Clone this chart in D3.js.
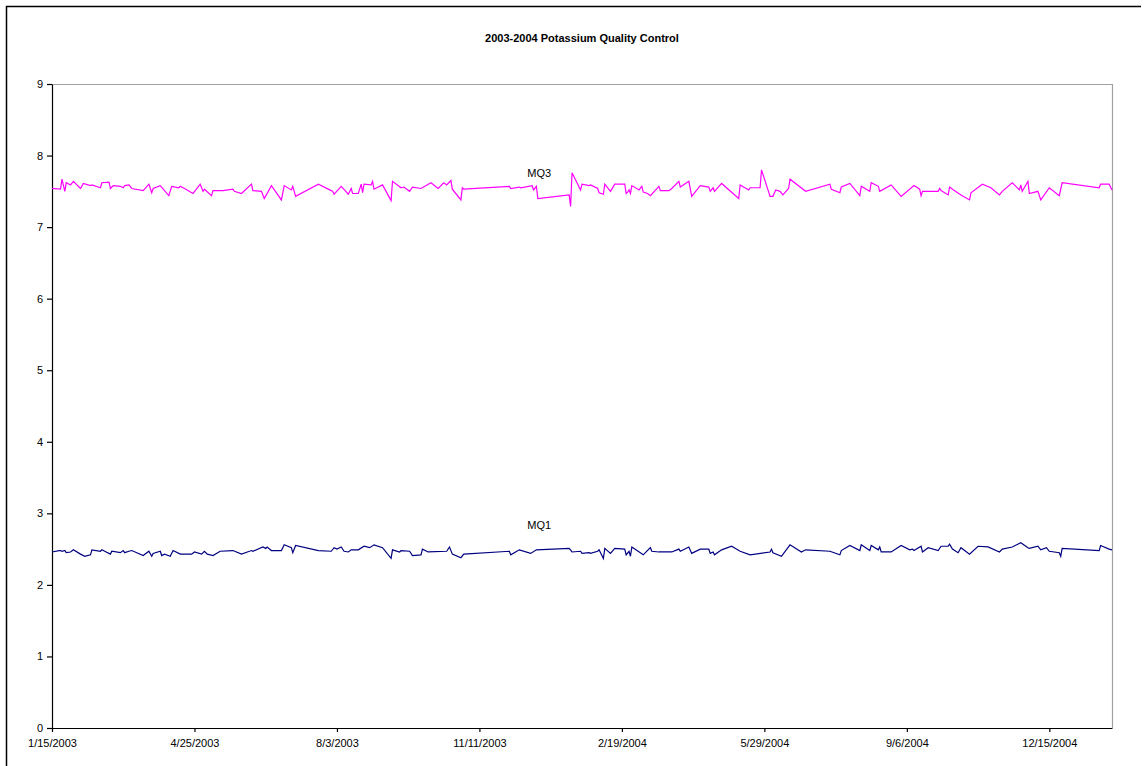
<!DOCTYPE html>
<html>
<head>
<meta charset="utf-8">
<script src="https://cdn.jsdelivr.net/npm/d3@7"></script>
<style>
  body { margin: 0; background: #fff; }
  svg { display: block; font-family: "Liberation Sans", Arial, sans-serif; }
</style>
</head>
<body>
<script>
// x axis labels (every 100 days) and the axis end
const xTickLabels = ["1/15/2003", "4/25/2003", "8/3/2003", "11/11/2003", "2/19/2004", "5/29/2004", "9/6/2004", "12/15/2004"];
const xEndLabel = "1/28/2005";
const yTicks = [0, 1, 2, 3, 4, 5, 6, 7, 8, 9];

// days after 1/15/2003 and values
const mq3Days = [0, 6, 7, 9, 10, 12, 13, 15, 20, 22, 27, 28, 34, 35, 40, 41, 43, 48, 50, 51, 54, 56, 64, 68, 70, 71, 76, 82, 84, 89, 90, 93, 99, 104, 106, 107, 112, 113, 120, 127, 128, 133, 140, 141, 147, 149, 154, 161, 163, 168, 169, 171,
  187, 196, 197, 198, 203, 208, 210, 211, 215, 217, 218, 219, 224, 225, 226, 232, 238, 239, 245, 247, 251, 253, 259, 266, 271, 275, 277, 279, 280, 281, 287, 288, 289,
  321, 322, 328, 329, 337, 338, 340, 341, 363, 364, 365, 371, 372, 377, 378, 383, 384, 387, 388, 392, 395, 402, 403, 404, 405, 406, 407, 412, 414, 415, 418, 420, 426, 427, 433, 435, 440, 441, 447, 449, 455, 461, 462, 464, 465, 470, 482, 483, 489, 490, 497, 498, 504, 506, 508, 511, 513, 517, 518, 529, 546, 547,
  553, 554, 560, 567, 568, 574, 575, 580, 581, 589, 596, 605, 609, 610, 611, 622, 623, 624, 629, 630, 632, 638, 644, 645, 653, 659, 665, 667, 674, 679, 680, 681, 685, 686, 692, 694, 700, 707, 709, 735, 736, 742, 744];
const mq3Values = [7.54, 7.53, 7.67, 7.50, 7.62, 7.60, 7.59, 7.64, 7.54, 7.61, 7.58, 7.59, 7.55, 7.62, 7.63, 7.54, 7.58, 7.57, 7.55, 7.58, 7.59, 7.54, 7.51, 7.60, 7.48, 7.54, 7.58, 7.44, 7.57, 7.55, 7.57, 7.54, 7.47, 7.60, 7.50, 7.53, 7.44, 7.51, 7.51, 7.53, 7.50, 7.47, 7.60, 7.51, 7.50, 7.40, 7.58, 7.38, 7.58, 7.52, 7.57, 7.43,
  7.60, 7.51, 7.50, 7.46, 7.57, 7.46, 7.54, 7.47, 7.47, 7.60, 7.48, 7.60, 7.59, 7.64, 7.53, 7.59, 7.37, 7.64, 7.55, 7.56, 7.50, 7.56, 7.54, 7.62, 7.54, 7.62, 7.59, 7.63, 7.65, 7.53, 7.38, 7.55, 7.53,
  7.57, 7.54, 7.56, 7.55, 7.58, 7.52, 7.57, 7.40, 7.45, 7.29, 7.76, 7.52, 7.60, 7.58, 7.59, 7.54, 7.48, 7.46, 7.60, 7.50, 7.60, 7.60, 7.47, 7.49, 7.52, 7.47, 7.58, 7.52, 7.57, 7.49, 7.47, 7.44, 7.57, 7.51, 7.51, 7.54, 7.64, 7.56, 7.64, 7.43, 7.58, 7.56, 7.50, 7.55, 7.50, 7.61, 7.40, 7.59, 7.52, 7.55, 7.55, 7.80, 7.43, 7.43, 7.52, 7.50, 7.45, 7.54, 7.67, 7.50, 7.60, 7.53,
  7.48, 7.56, 7.61, 7.44, 7.57, 7.50, 7.62, 7.57, 7.50, 7.59, 7.43, 7.58, 7.53, 7.44, 7.50, 7.50, 7.54, 7.51, 7.45, 7.56, 7.53, 7.45, 7.38, 7.48, 7.60, 7.55, 7.45, 7.50, 7.62, 7.52, 7.59, 7.50, 7.64, 7.47, 7.50, 7.38, 7.55, 7.44, 7.62, 7.55, 7.60, 7.60, 7.52];

const mq1Days = [0, 5, 6, 7, 9, 10, 13, 15, 20, 23, 27, 28, 34, 35, 38, 41, 42, 48, 50, 51, 54, 56, 64, 68, 70, 71, 76, 77, 79, 83, 85, 90, 98, 100, 105, 107, 109, 113, 118, 127, 133, 140, 141, 148, 150, 151, 154, 161, 163, 168, 169, 171,
  187, 196, 198, 200, 203, 205, 208, 210, 215, 219, 223, 226, 232, 238, 239, 244, 245, 251, 253, 259, 260, 264, 277, 279, 281, 287, 289,
  321, 322, 328, 336, 340, 363, 365, 371, 372, 377, 378, 383, 384, 387, 388, 392, 395, 402, 403, 405, 406, 407, 415, 420, 421, 426, 435, 440, 441, 447, 449, 455, 461, 462, 464, 465, 470, 477, 483, 490, 504, 505, 506, 512, 518, 526, 529, 546,
  553, 554, 560, 567, 568, 574, 575, 580, 581, 582, 589, 596, 602, 604, 605, 610, 611, 615, 622, 624, 629, 630, 632, 636, 638, 644, 650, 657, 665, 667, 674, 680, 685, 686, 692, 694, 698, 700, 707, 708, 709, 735, 736, 742, 744];
const mq1Values = [2.46, 2.48, 2.48, 2.47, 2.48, 2.45, 2.46, 2.49, 2.43, 2.40, 2.42, 2.49, 2.47, 2.49, 2.46, 2.43, 2.47, 2.45, 2.48, 2.45, 2.47, 2.48, 2.41, 2.47, 2.40, 2.44, 2.47, 2.41, 2.43, 2.40, 2.48, 2.43, 2.43, 2.46, 2.43, 2.47, 2.43, 2.41, 2.47, 2.48, 2.43, 2.48, 2.47, 2.53, 2.51, 2.53, 2.48, 2.48, 2.56, 2.52, 2.45, 2.55,
  2.48, 2.47, 2.52, 2.50, 2.53, 2.47, 2.46, 2.49, 2.49, 2.54, 2.52, 2.56, 2.52, 2.37, 2.49, 2.46, 2.48, 2.47, 2.41, 2.42, 2.50, 2.46, 2.47, 2.53, 2.43, 2.38, 2.43,
  2.47, 2.42, 2.49, 2.44, 2.49, 2.51, 2.46, 2.47, 2.44, 2.45, 2.44, 2.47, 2.49, 2.37, 2.51, 2.44, 2.51, 2.50, 2.42, 2.47, 2.40, 2.53, 2.42, 2.52, 2.47, 2.46, 2.46, 2.50, 2.47, 2.53, 2.44, 2.50, 2.50, 2.44, 2.46, 2.42, 2.49, 2.54, 2.47, 2.42, 2.46, 2.50, 2.45, 2.40, 2.56, 2.46, 2.49, 2.47,
  2.42, 2.48, 2.55, 2.48, 2.56, 2.48, 2.55, 2.49, 2.53, 2.46, 2.46, 2.55, 2.49, 2.50, 2.48, 2.54, 2.46, 2.52, 2.48, 2.54, 2.54, 2.57, 2.50, 2.45, 2.52, 2.43, 2.54, 2.53, 2.46, 2.50, 2.53, 2.59, 2.52, 2.51, 2.54, 2.49, 2.52, 2.47, 2.45, 2.40, 2.51, 2.48, 2.55, 2.50, 2.49];

const seriesNames = ["MQ3", "MQ1"];
const seriesColors = ["#ff00ff", "#000080"];

const width = 1146;
const height = 766;
const margin = { top: 84, right: 34, bottom: 38, left: 52 };

const parse = d3.utcParse("%m/%d/%Y");
const fmt = d3.utcFormat("%-m/%-d/%Y");
const start = parse(xTickLabels[0]);
const toDate = (d) => d3.utcDay.offset(start, d);

const series = [
  { name: seriesNames[0], color: seriesColors[0], points: mq3Days.map((d, i) => [toDate(d), mq3Values[i]]) },
  { name: seriesNames[1], color: seriesColors[1], points: mq1Days.map((d, i) => [toDate(d), mq1Values[i]]) }
];

const x = d3.scaleUtc()
  .domain([start, parse(xEndLabel)])
  .range([margin.left, width - margin.right]);

const y = d3.scaleLinear()
  .domain([0, 9])
  .range([height - margin.bottom, margin.top]);

const svg = d3.create("svg")
  .attr("width", width)
  .attr("height", height)
  .attr("viewBox", [0, 0, width, height]);

// outer chart frame
svg.append("path")
  .attr("d", `M6.5,${height}V6.5H${width - 5}`)
  .attr("fill", "none")
  .attr("stroke", "#000")
  .attr("stroke-width", 1.5);

// plot area frame (top/right in grey)
svg.append("path")
  .attr("d", `M${margin.left},${margin.top + 0.5}H${width - margin.right + 0.5}V${height - margin.bottom}`)
  .attr("fill", "none")
  .attr("stroke", "#a0a0a0")
  .attr("stroke-width", 1.2);

svg.append("text")
  .attr("x", 582)
  .attr("y", 42)
  .attr("text-anchor", "middle")
  .attr("font-size", 11)
  .attr("font-weight", "bold")
  .text("2003-2004 Potassium Quality Control");

const yAxis = svg.append("g")
  .attr("transform", `translate(${margin.left},0)`)
  .call(d3.axisLeft(y).tickValues(yTicks).tickSize(5).tickSizeOuter(0).tickPadding(4));

const xAxis = svg.append("g")
  .attr("transform", `translate(0,${height - margin.bottom})`)
  .call(d3.axisBottom(x).tickValues(xTickLabels.map(parse)).tickFormat(fmt).tickSize(4).tickSizeOuter(0).tickPadding(7));

[xAxis, yAxis].forEach((g) => {
  g.selectAll("text").attr("font-size", 11).attr("fill", "#000")
    .attr("font-family", "'Liberation Sans', Arial, sans-serif");
  g.selectAll("line, path").attr("stroke", "#000").attr("stroke-width", 1.2);
});

const line = d3.line()
  .x((d) => x(d[0]))
  .y((d) => y(d[1]));

svg.append("g")
  .selectAll("path")
  .data(series)
  .join("path")
  .attr("fill", "none")
  .attr("stroke", (d) => d.color)
  .attr("stroke-width", 1.2)
  .attr("stroke-linejoin", "miter")
  .attr("d", (d) => line(d.points));

// series name labels, as in the original
const labelDay = 342;
const labelValues = [7.76, 2.84];
svg.append("g")
  .selectAll("text")
  .data(series)
  .join("text")
  .attr("x", x(toDate(labelDay)))
  .attr("y", (d, i) => y(labelValues[i]))
  .attr("dy", "0.35em")
  .attr("text-anchor", "middle")
  .attr("font-size", 11)
  .text((d) => d.name);

document.body.appendChild(svg.node());
</script>
</body>
</html>
